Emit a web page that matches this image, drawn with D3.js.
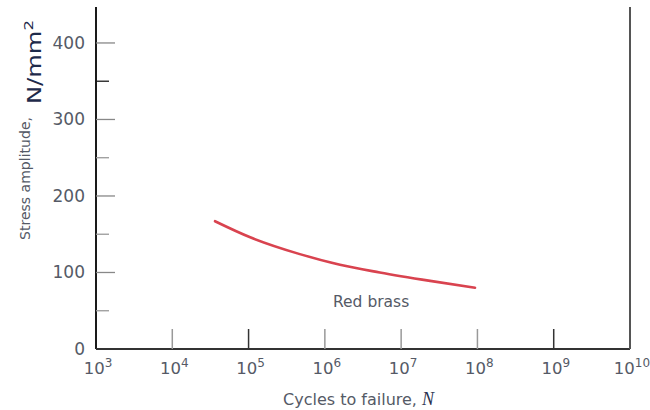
<!DOCTYPE html>
<html>
<head>
<meta charset="utf-8">
<script src="https://cdn.jsdelivr.net/npm/d3@7"></script>
<style>
  body { margin: 0; background: #fff; }
  svg text { font-family: "DejaVu Sans", "Liberation Sans", Arial, sans-serif; }
</style>
</head>
<body>
<div id="chart"></div>
<script>
// S-N curve, red brass

const cycles = [3.63e4, 1.05e5, 4.7e5, 1.58e6, 5.25e6, 2.4e7, 9.3e7];
const stress = [167, 146, 124, 110, 100, 89, 80];
const xTickExps = [3, 4, 5, 6, 7, 8, 9, 10];
const yMajor = [0, 100, 200, 300, 400];
const yMinor = [50, 150, 250, 350];
const seriesName = "Red brass";

const width = 650, height = 410;
const margin = { top: 7, right: 20, bottom: 61, left: 96 };

const svg = d3.select("#chart").append("svg")
  .attr("width", width)
  .attr("height", height);

const x = d3.scaleLog()
  .domain([1e3, 1e10])
  .range([margin.left, width - margin.right]);

const y = d3.scaleLinear()
  .domain([0, 447])
  .range([height - margin.bottom, margin.top]);

const x0 = x.range()[0], x1 = x.range()[1];
const y0 = y.range()[0], y1 = y.range()[1];
const labelColor = "#555a66";

// ── Frame: left, bottom, right ─────────────────────────────────────
svg.append("line")
  .attr("x1", x0).attr("x2", x0).attr("y1", y1).attr("y2", y0)
  .attr("stroke", "#1a1a1a").attr("stroke-width", 2);
svg.append("line")
  .attr("x1", x0).attr("x2", x1).attr("y1", y0).attr("y2", y0)
  .attr("stroke", "#333").attr("stroke-width", 2);
svg.append("line")
  .attr("x1", x1).attr("x2", x1).attr("y1", y1).attr("y2", y0)
  .attr("stroke", "#555").attr("stroke-width", 2);

// ── Y ticks (inward) ───────────────────────────────────────────────
yMajor.filter(v => v > 0).forEach(v => {
  svg.append("line")
    .attr("x1", x0).attr("x2", x0 + 19)
    .attr("y1", y(v)).attr("y2", y(v))
    .attr("stroke", "#888").attr("stroke-width", 1.3);
});
yMinor.forEach(v => {
  svg.append("line")
    .attr("x1", x0).attr("x2", x0 + 13)
    .attr("y1", y(v)).attr("y2", y(v))
    .attr("stroke", v === 350 ? "#1a1a1a" : "#999").attr("stroke-width", 1.3);
});
yMajor.forEach(v => {
  svg.append("text")
    .attr("x", x0 - 11)
    .attr("y", y(v) + 6)
    .attr("text-anchor", "end")
    .style("font-size", "17px")
    .style("fill", labelColor)
    .text(v);
});

// ── X ticks (inward) ───────────────────────────────────────────────
xTickExps.slice(1, -1).forEach(e => {
  svg.append("line")
    .attr("x1", x(10 ** e)).attr("x2", x(10 ** e))
    .attr("y1", y0).attr("y2", y0 - 20)
    .attr("stroke", (e === 5 || e === 9) ? "#333" : "#999")
    .attr("stroke-width", 1.5);
});
xTickExps.forEach(e => {
  const t = svg.append("text")
    .attr("x", x(10 ** e) + 2)
    .attr("y", y0 + 25)
    .attr("text-anchor", "middle")
    .style("font-size", "16.5px")
    .style("fill", labelColor);
  t.append("tspan").text("10");
  t.append("tspan")
    .attr("dy", -7)
    .style("font-size", "12px")
    .text(e);
});

// ── Curve ──────────────────────────────────────────────────────────
const points = cycles.map((c, i) => [c, stress[i]]);
svg.append("path")
  .datum(points)
  .attr("fill", "none")
  .attr("stroke", "#d9434f")
  .attr("stroke-width", 2.6)
  .attr("stroke-linecap", "round")
  .attr("d", d3.line()
    .x(d => x(d[0]))
    .y(d => y(d[1]))
    .curve(d3.curveMonotoneX));

svg.append("text")
  .attr("x", 333)
  .attr("y", 307)
  .style("font-size", "15.5px")
  .style("fill", labelColor)
  .text(seriesName);

// ── Axis titles ────────────────────────────────────────────────────
const xt = svg.append("text")
  .attr("x", 283)
  .attr("y", 405)
  .style("font-size", "16px")
  .style("fill", labelColor);
xt.append("tspan").text("Cycles to failure, ");
xt.append("tspan")
  .style("font-family", "'Liberation Serif', 'Times New Roman', serif")
  .style("font-style", "italic")
  .style("font-size", "18px")
  .style("fill", "#2a3350")
  .text("N");

svg.append("text")
  .attr("transform", "translate(30, 240) rotate(-90)")
  .attr("textLength", 123)
  .attr("lengthAdjust", "spacingAndGlyphs")
  .style("font-size", "14.5px")
  .style("fill", labelColor)
  .text("Stress amplitude,");

const unit = svg.append("text")
  .attr("transform", "translate(41, 104) rotate(-90)")
  .attr("textLength", 84)
  .attr("lengthAdjust", "spacingAndGlyphs")
  .style("font-size", "19px")
  .style("fill", "#1e2a4a");
unit.append("tspan").text("N/mm");
unit.append("tspan")
  .attr("dy", -8)
  .style("font-size", "13px")
  .text("2");
</script>
</body>
</html>
